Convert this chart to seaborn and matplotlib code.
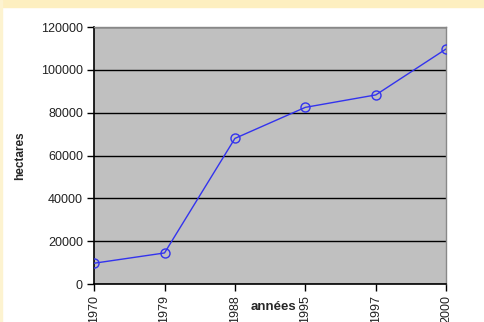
import matplotlib
matplotlib.use('Agg')
import matplotlib.pyplot as plt
import seaborn as sns
import numpy as np

# données
annees = ['1970', '1979', '1988', '1995', '1997', '2000']
hectares = [9700, 14500, 68000, 82500, 88300, 109800]

sns.set_style('white')
plt.rcParams['font.family'] = ['Liberation Sans', 'DejaVu Sans']

fig = plt.figure(figsize=(4.85, 3.22), dpi=100)
# bandeau jaune en haut et liseré à gauche
fig.patches.append(plt.Rectangle((0, 0.978), 1, 0.022, transform=fig.transFigure,
                                 color='#FDEFC0', zorder=0))
fig.patches.append(plt.Rectangle((0, 0), 0.004, 1, transform=fig.transFigure,
                                 color='#FDF3D0', zorder=0))
ax = fig.add_axes([0.194, 0.118, 0.726, 0.798])
ax.set_facecolor('#C0C0C0')

pos = np.arange(len(annees))
sns.lineplot(x=pos, y=hectares, ax=ax, color='#3333EE', linewidth=1,
             marker='o', markersize=6.5, markerfacecolor='none',
             markeredgecolor='#3333EE', markeredgewidth=1, zorder=3)

ax.set_xlim(0, len(annees) - 1)
ax.set_ylim(0, 120000)
ax.set_yticks(range(0, 120001, 20000))
ax.set_xticks(pos)
ax.set_xticklabels(annees, rotation=90)
ax.yaxis.grid(True, color='black', linewidth=1)
ax.set_axisbelow(True)
ax.tick_params(axis='both', direction='out', length=5, width=1, color='black',
               labelsize=9, labelcolor='#222222', left=True, bottom=True, pad=3)

for s in ['top', 'right']:
    ax.spines[s].set_color('#888888')
    ax.spines[s].set_linewidth(1)
for s in ['left', 'bottom']:
    ax.spines[s].set_color('black')
    ax.spines[s].set_linewidth(1.2)

ax.set_xlabel('')
ax.set_ylabel('hectares', fontsize=8.5, fontweight='bold', labelpad=11)
fig.text(0.564, 0.047, 'années', fontsize=9.5, fontweight='bold', ha='center', va='center')

fig.savefig('out.png', dpi=100)
